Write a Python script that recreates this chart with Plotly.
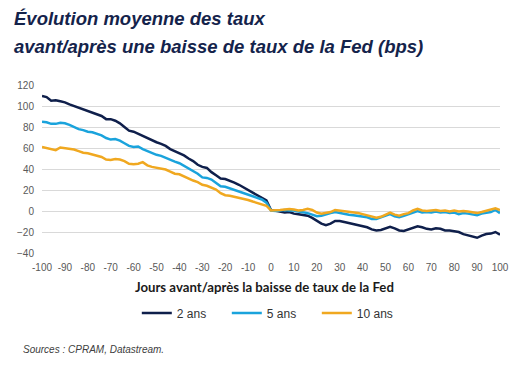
import plotly.graph_objects as go

days = list(range(-100, 101, 2))

ans2 = [109.5, 108.5, 105, 105.5, 104.5, 103.5, 101.5, 100, 98, 96.5, 95.5, 94, 92, 90.5, 87.5, 87.5, 86, 83.5, 80, 76.5,
        75.5, 73.5, 71.5, 69, 67.5, 65.5, 64, 62, 59, 57, 55, 53, 50, 47.5, 44, 42, 41, 37, 34, 31,
        30.5, 29, 27, 25, 22.5, 19.5, 17.5, 15, 12.5, 10, 1,
        0, -1, -1.5, -1, -2.5, -3, -4, -4.5, -6.5, -9, -12, -13.5, -12, -9.5, -9.5, -10.5, -11.5, -12.5, -13.5, -14,
        -15.5, -17.5, -18.5, -18, -16.5, -15, -16.5, -18.5, -19, -17.5, -16.5, -14.5, -15.5, -17, -17.5, -16.5, -17, -18.5, -18.5, -19.5,
        -20, -22, -23, -24.5, -25.5, -23.5, -22, -21.5, -20, -22.5]

ans5 = [85, 84.5, 83, 83, 84, 83.5, 82, 80, 78, 77, 75.5, 75, 73.5, 72, 69.5, 68, 68.5, 67, 64.5, 62,
        61, 61.5, 59, 57, 55, 53.5, 52.5, 50.5, 49, 47, 45.5, 43, 40.5, 38, 35.5, 32, 31.5, 30, 26.5, 23.5,
        23, 21.5, 20, 19, 17.5, 16, 14.5, 13, 11, 8, 0.5,
        0, 0.5, 1, 0.5, 0.5, -0.5, -1, -2, -3.5, -5, -4.5, -3, -2, -1, -2, -2.5, -3.5, -4, -4.5, -5,
        -6, -7.5, -7.5, -6, -4.5, -3, -5, -6, -4.5, -3, -1, 0, -1.5, -1, -1.5, -0.5, -1.5, -1, -2, -1.5,
        -3, -2, -2.5, -3.5, -4, -2.5, -1.5, -1, 1, -2]

ans10 = [61, 60, 58.5, 58, 60.5, 60, 59.5, 58.5, 57, 55.5, 55, 54, 53, 51.5, 49, 48.5, 49.5, 49, 47.5, 45,
         44.5, 45, 46.5, 43.5, 42, 41, 40, 39.5, 37.5, 35.5, 35, 33, 30.5, 29, 27.5, 25, 24, 22.5, 20.5, 17,
         15, 14.5, 13.5, 13, 12, 10.5, 9, 7.5, 6, 5, 0.5,
         0.5, 1, 1.5, 2, 1.5, 0.5, 1, 2, 1, -1.5, -2.5, -2, -1, 1, 0.5, 0, -0.5, -1, -2, -3,
         -4, -5.5, -6.5, -5.5, -3.5, -1.5, -3.5, -4.5, -3, -2, 0.5, 2, 0.5, 0, 0.5, 1, 0, 0.5, -0.5, 0.5,
         -0.5, 0, -0.5, -1.5, -2, -1, 0, 1.5, 2.5, 1]

series_names = ["2 ans", "5 ans", "10 ans"]
series_colors = ["#0f1f4b", "#1aa3dc", "#f0a820"]
x_ticks = list(range(-100, 101, 10))
y_ticks = list(range(-40, 121, 20))

fig = go.Figure()
for name, vals, col in zip(series_names, [ans2, ans5, ans10], series_colors):
    fig.add_trace(go.Scatter(x=days, y=vals, mode="lines", name=name,
                             line=dict(color=col, width=2.5)))

# page body has an 8px default margin, so the figure is 518x360 placed at (8, 8)
fig.update_layout(
    width=518, height=360,
    margin=dict(l=34, r=26, t=77, b=115, autoexpand=False),
    paper_bgcolor="white", plot_bgcolor="white",
    font=dict(family="Liberation Sans, Arial, sans-serif", color="#595959", size=10),
    showlegend=True,
    legend=dict(orientation="h", x=0.207, xanchor="left", y=-0.357, yanchor="middle",
                font=dict(size=12, color="#333333"), entrywidth=45, entrywidthmode="pixels",
                traceorder="normal", bgcolor="rgba(0,0,0,0)"),
    xaxis=dict(range=[-100, 100], tickvals=x_ticks, ticktext=[str(v) for v in x_ticks],
               showgrid=False, zeroline=False, showline=False, ticks="",
               ticklabelstandoff=7,
               tickfont=dict(size=10, color="#595959")),
    yaxis=dict(range=[-40, 120], tickvals=y_ticks, showgrid=True, gridcolor="#d9d9d9",
               gridwidth=1, zeroline=False, showline=False, ticks="",
               ticklabelstandoff=7,
               tickfont=dict(size=10, color="#595959")),
)

fig.add_annotation(text="<b><i>Évolution moyenne des taux</i></b>", xref="paper", yref="paper",
                   x=-42/458 + 12/458, xanchor="left", y=(253-18)/168, yanchor="middle", showarrow=False,
                   font=dict(size=18.5, color="#14234b", family="Liberation Sans, Arial, sans-serif"))
fig.add_annotation(text="<b><i>avant/après une baisse de taux de la Fed (bps)</i></b>", xref="paper", yref="paper",
                   x=-42/458 + 12/458, xanchor="left", y=(253-47)/168, yanchor="middle", showarrow=False,
                   font=dict(size=18.5, color="#14234b", family="Liberation Sans, Arial, sans-serif"))
fig.add_annotation(text="<b>Jours avant/après la baisse de taux de la Fed</b>", xref="paper", yref="paper",
                   x=(264-42)/458, xanchor="center", y=(253-287)/168, yanchor="middle", showarrow=False,
                   font=dict(size=13.2, color="#1a1a1a", family="Lato, sans-serif"))
fig.add_annotation(text="<i>Sources : CPRAM, Datastream.</i>", xref="paper", yref="paper",
                   x=(21-42)/458, xanchor="left", y=(253-349)/168, yanchor="middle", showarrow=False,
                   font=dict(size=10, color="#404040", family="Liberation Sans, Arial, sans-serif"))

fig.write_html("out.html")
